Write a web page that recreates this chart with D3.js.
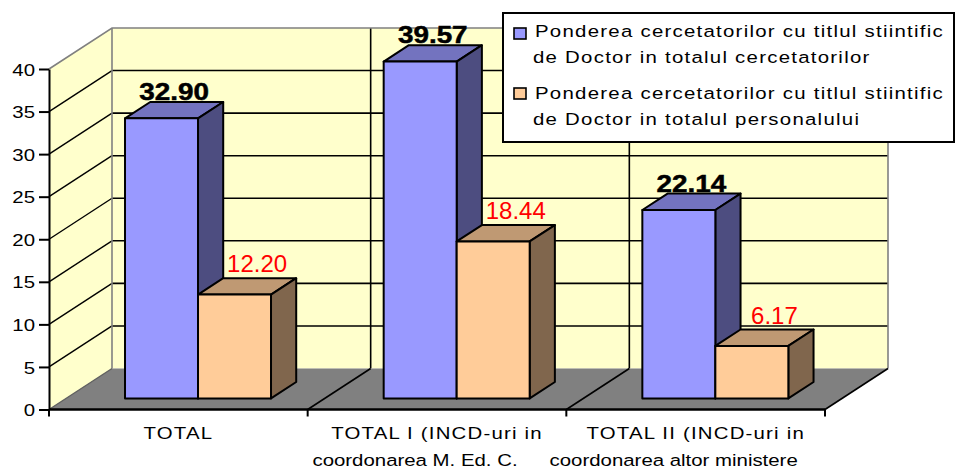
<!DOCTYPE html>
<html>
<head>
<meta charset="utf-8">
<script src="https://cdn.jsdelivr.net/npm/d3@7"></script>
<style>
  html, body { margin: 0; padding: 0; background: #ffffff; }
  svg { display: block; }
  text { font-family: "Liberation Sans", Arial, sans-serif; }
</style>
</head>
<body>
<svg id="chart" width="956" height="474"></svg>
<script>
// ---- data ----
const categories = ["TOTAL", "TOTAL I", "TOTAL II"];
const categoryLabels = [
  ["TOTAL"],
  ["TOTAL I (INCD-uri in", "coordonarea M. Ed. C."],
  ["TOTAL II (INCD-uri in", "coordonarea altor ministere"]
];
const seriesKeys = ["cercetatori", "personal"];
const seriesLegend = [
  ["Ponderea cercetatorilor cu titlul stiintific", "de Doctor in totalul cercetatorilor"],
  ["Ponderea cercetatorilor cu titlul stiintific", "de Doctor in totalul personalului"]
];
const doctorInResearchers = [32.90, 39.57, 22.14];
const doctorInStaff = [12.20, 18.44, 6.17];
const yTicks = [0, 5, 10, 15, 20, 25, 30, 35, 40];

// ---- styling ----
const seriesFill = ["#9999FF", "#FFCC99"];
const seriesTop = ["#7373BF", "#BF9973"];
const seriesSide = ["#4D4D80", "#80664D"];
const wallFill = "#FFFFCC";
const floorFill = "#808080";
const edgeGray = "#808080";
const textStretch = 1.2;

const svg = d3.select("#chart");

// front plane of the 3D box
const x0 = d3.scaleBand().domain(categories).range([49, 825]);
const y = d3.scaleLinear().domain([0, 40]).range([409.5, 69]);
const depthX = 63, depthY = 41;            // offset from front plane to back wall
const barFront = 0.27, barBack = 0.67;    // depth fractions occupied by the bars
const x1 = d3.scaleBand().domain(seriesKeys).range([59, 205]);

const P = (x, v, f) => [x + depthX * f, y(v) - depthY * f];
const poly = pts => "M" + pts.map(p => p.join(",")).join("L") + "Z";
const line = pts => "M" + pts.map(p => p.join(",")).join("L");

const xL = x0.range()[0], xR = x0.range()[1];
const vMax = 40;

// ---- walls ----
svg.append("path")
  .attr("d", poly([P(xL, 0, 1), P(xR, 0, 1), P(xR, vMax, 1), P(xL, vMax, 1)]))
  .attr("fill", wallFill).attr("stroke", "none");
svg.append("path")
  .attr("d", poly([P(xL, 0, 0), P(xL, 0, 1), P(xL, vMax, 1), P(xL, vMax, 0)]))
  .attr("fill", wallFill).attr("stroke", "none");

// gridlines on back wall and side wall
yTicks.filter(v => v > 0 && v < vMax).forEach(v => {
  svg.append("path").attr("d", line([P(xL, v, 1), P(xR, v, 1)]))
    .attr("stroke", "#000").attr("stroke-width", 1.6).attr("fill", "none");
  svg.append("path").attr("d", line([P(xL, v, 0), P(xL, v, 1)]))
    .attr("stroke", "#000").attr("stroke-width", 1.4).attr("fill", "none");
});
// vertical category dividers on back wall
const boundaries = categories.map(c => x0(c)).concat([xR]);
boundaries.slice(1, -1).forEach(bx => {
  svg.append("path").attr("d", line([P(bx, 0, 1), P(bx, vMax, 1)]))
    .attr("stroke", "#000").attr("stroke-width", 1.6).attr("fill", "none");
});

// wall outlines
svg.append("path")
  .attr("d", line([P(xL, vMax, 0), P(xL, vMax, 1), P(xR, vMax, 1), P(xR, 0, 1)]))
  .attr("stroke", edgeGray).attr("stroke-width", 1.6).attr("fill", "none");
svg.append("path")
  .attr("d", line([P(xL, vMax, 1), P(xL, 0, 1)]))
  .attr("stroke", edgeGray).attr("stroke-width", 1.6).attr("fill", "none");

// ---- floor ----
svg.append("path")
  .attr("d", poly([P(xL, 0, 0), P(xR, 0, 0), P(xR, 0, 1), P(xL, 0, 1)]))
  .attr("fill", floorFill).attr("stroke", "none");
svg.append("path").attr("d", line([P(xL, 0, 0), P(xL, 0, 1)]))
  .attr("stroke", "#606060").attr("stroke-width", 1.4).attr("fill", "none");
boundaries.slice(1).forEach(bx => {
  svg.append("path").attr("d", line([P(bx, 0, 0), P(bx, 0, 1)]))
    .attr("stroke", "#000").attr("stroke-width", 1.6).attr("fill", "none");
});

// ---- bars ----
const seriesValues = [doctorInResearchers, doctorInStaff];
const bars = [];
categories.forEach((c, i) => {
  seriesKeys.forEach((s, j) => {
    const v = seriesValues[j][i];
    const xa = x0(c) + x1(s), xb = xa + x1.bandwidth();
    bars.push({ i, j, v, xa, xb });
  });
});

const barG = svg.append("g")
  .attr("stroke", "#000").attr("stroke-width", 2).attr("stroke-linejoin", "round");
bars.forEach(b => {
  const g = barG.append("g");
  g.append("path")   // top face
    .attr("d", poly([P(b.xa, b.v, barFront), P(b.xb, b.v, barFront), P(b.xb, b.v, barBack), P(b.xa, b.v, barBack)]))
    .attr("fill", seriesTop[b.j]);
  g.append("path")   // side face
    .attr("d", poly([P(b.xb, 0, barFront), P(b.xb, 0, barBack), P(b.xb, b.v, barBack), P(b.xb, b.v, barFront)]))
    .attr("fill", seriesSide[b.j]);
  g.append("path")   // front face
    .attr("d", poly([P(b.xa, 0, barFront), P(b.xb, 0, barFront), P(b.xb, b.v, barFront), P(b.xa, b.v, barFront)]))
    .attr("fill", seriesFill[b.j]);
});

// ---- value labels ----
bars.forEach(b => {
  const by = P(b.xa, b.v, barBack)[1];
  const cx = (P(b.xa, b.v, barFront)[0] + P(b.xb, b.v, barBack)[0]) / 2;
  if (b.j === 0) {
    svg.append("text")
      .attr("transform", `translate(${cx},${by - 2}) scale(1.16,1)`)
      .attr("text-anchor", "middle")
      .attr("font-size", 24).attr("font-weight", "bold")
      .attr("fill", "#000").attr("stroke", "#000").attr("stroke-width", 0.5)
      .text(b.v.toFixed(2));
  } else {
    svg.append("text")
      .attr("transform", `translate(${cx + 10},${by - 6})`)
      .attr("text-anchor", "middle")
      .attr("font-size", 24)
      .attr("fill", "#FF0000")
      .text(b.v.toFixed(2));
  }
});

// ---- value axis ----
const yAxis = d3.axisLeft(y).tickValues(yTicks).tickSize(10).tickSizeOuter(0).tickFormat(d3.format("d"));
const yAxisG = svg.append("g").attr("transform", `translate(${xL},0)`).call(yAxis);
yAxisG.select(".domain").attr("stroke", "#000").attr("stroke-width", 2);
yAxisG.selectAll(".tick line").attr("stroke", "#000").attr("stroke-width", 2);
yAxisG.selectAll(".tick text")
  .attr("x", null)
  .attr("transform", `translate(-14,0) scale(${textStretch},1)`)
  .attr("dy", "0.36em")
  .attr("font-size", 17).attr("fill", "#000")
  .style("font-family", "'Liberation Sans', Arial, sans-serif");

// ---- category axis ----
svg.append("path").attr("d", line([P(xL, 0, 0), P(xR, 0, 0)]))
  .attr("stroke", "#000").attr("stroke-width", 2.4).attr("fill", "none");
boundaries.forEach(bx => {
  svg.append("path").attr("d", line([[bx, y(0)], [bx, y(0) + 7]]))
    .attr("stroke", "#000").attr("stroke-width", 2).attr("fill", "none");
});
const secondLineShift = -22;
categories.forEach((c, i) => {
  const cx = x0(c) + x0.bandwidth() / 2;
  categoryLabels[i].forEach((t, k) => {
    svg.append("text")
      .attr("transform", `translate(${cx + (k ? secondLineShift : 0)},${439 + 27 * k}) scale(${textStretch},1)`)
      .attr("text-anchor", "middle")
      .attr("font-size", 17).attr("fill", "#000")
      .attr("letter-spacing", k ? 0 : 1)
      .text(t);
  });
});

// ---- legend ----
const legend = svg.append("g");
legend.append("rect")
  .attr("x", 503).attr("y", 13).attr("width", 451).attr("height", 129)
  .attr("fill", "#fff").attr("stroke", "#000").attr("stroke-width", 2);
seriesLegend.forEach((lines, j) => {
  const top = 28 + 60 * j;
  legend.append("rect")
    .attr("x", 514).attr("y", top).attr("width", 12).attr("height", 11)
    .attr("fill", seriesFill[j]).attr("stroke", "#000").attr("stroke-width", 1.6);
  lines.forEach((t, k) => {
    legend.append("text")
      .attr("transform", `translate(${k ? 533 : 535},${37 + 62 * j + 26 * k}) scale(${textStretch},1)`)
      .attr("font-size", 17).attr("fill", "#000")
      .attr("letter-spacing", 1.05)
      .text(t);
  });
});
</script>
</body>
</html>
